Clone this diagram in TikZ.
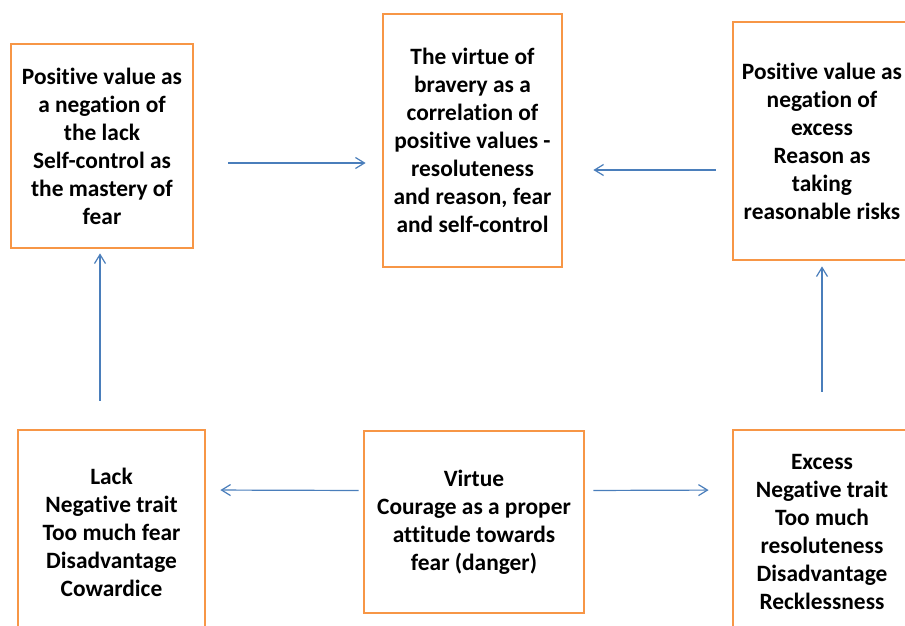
\documentclass[tikz,border=0pt]{standalone}
\usepackage{fontspec}
\setmainfont[RawFeature=-liga]{Carlito}
\usetikzlibrary{arrows.meta}
\definecolor{boxorange}{HTML}{F79646}
\definecolor{linkblue}{HTML}{4A7EBB}

\begin{document}
\begin{tikzpicture}[x=1pt, y=-1pt, >={Straight Barb[length=9pt,width=11pt]},
  box/.style={draw=boxorange, line width=2.8pt, fill=white, align=center, inner sep=0pt,
    font=\bfseries\fontsize{23.4}{28}\selectfont},
  link/.style={->, draw=linkblue, line width=1.2pt}]
  \useasboundingbox (0,0) rectangle (905,626);
  % upper row
  \node[box, minimum width=182pt, minimum height=204pt] (lackpos) at (102,146)
    {Positive value as\\ a negation of\\ the lack\\ Self-control as\\ the mastery of\\ fear};
  \node[box, minimum width=179pt, minimum height=253pt] (bravery) at (472.5,140.5)
    {The virtue of\\ bravery as a\\ correlation of\\ positive values -\\ resoluteness\\ and reason, fear\\ and self-control};
  \node[box, minimum width=178pt, minimum height=238pt] (excesspos) at (822,141)
    {Positive value as\\ negation of\\ excess\\ Reason as\\ taking\\ reasonable risks};
  % lower row
  \node[box, minimum width=187pt, minimum height=204pt] (lack) at (111.5,532)
    {Lack\\ Negative trait\\ Too much fear\\ Disadvantage\\ Cowardice};
  \node[box, minimum width=220pt, minimum height=182pt] (virtue) at (474,522)
    {Virtue\\ Courage as a proper\\ attitude towards\\ fear (danger)};
  \node[box, minimum width=178pt, minimum height=204pt] (excess) at (822,532)
    {Excess\\ Negative trait\\ Too much\\ resoluteness\\ Disadvantage\\ Recklessness};
  % links
  \draw[link, shorten <=34pt, shorten >=16pt] ([yshift=-17pt]lackpos.east) -- ([yshift=-22.5pt]bravery.west);
  \draw[link, shorten <=16pt, shorten >=30pt] ([yshift=-29pt]excesspos.west) -- ([yshift=-29.5pt]bravery.east);
  \draw[link, shorten <=28pt, shorten >=4pt] ([xshift=-11.5pt]lack.north) -- ([xshift=-2pt]lackpos.south);
  \draw[link, shorten <=37pt, shorten >=5pt] (excess.north) -- (excesspos.south);
  \draw[link, shorten <=4pt, shorten >=14pt] ([yshift=31.5pt]virtue.west) -- ([yshift=42pt]lack.east);
  \draw[link, shorten <=8pt, shorten >=23pt] ([yshift=31.5pt]virtue.east) -- ([yshift=42pt]excess.west);
\end{tikzpicture}
\end{document}
